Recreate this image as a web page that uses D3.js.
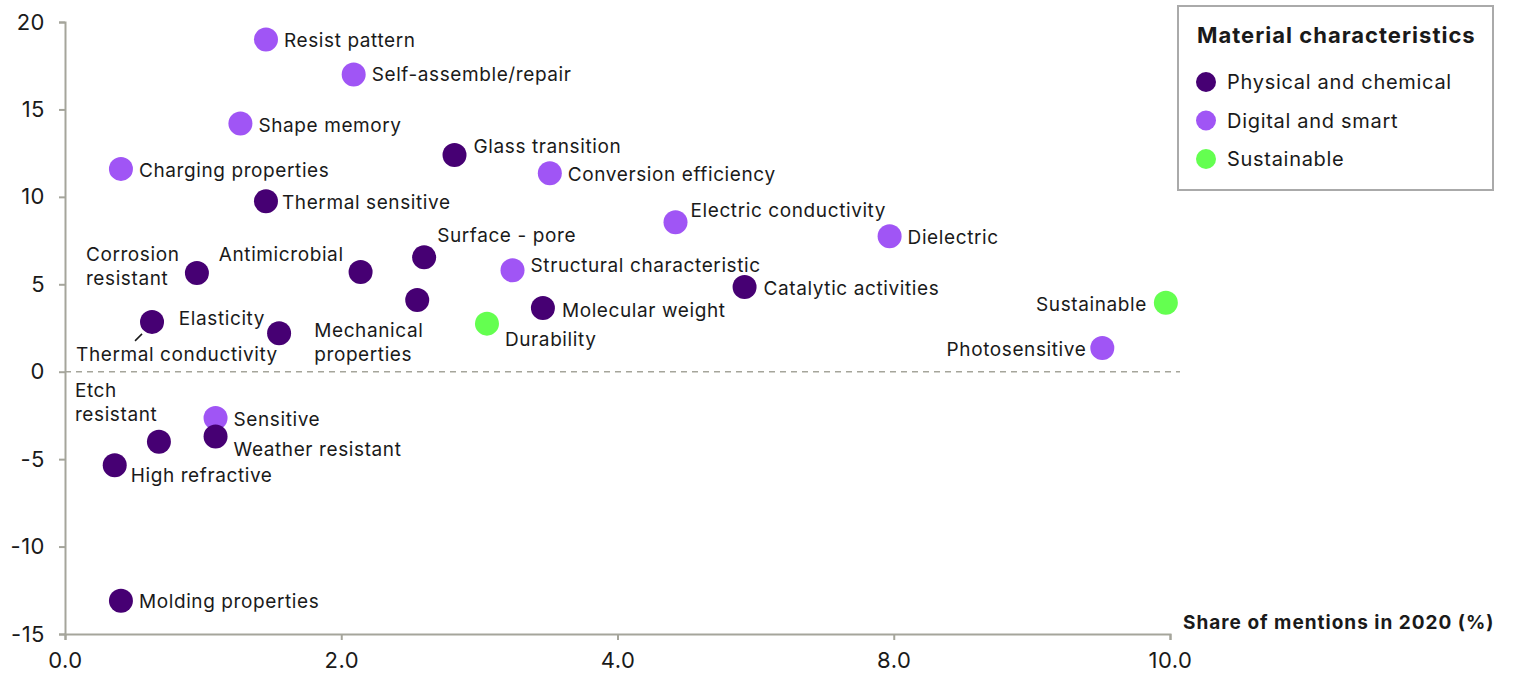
<!DOCTYPE html>
<html>
<head>
<meta charset="utf-8">
<script src="https://cdn.jsdelivr.net/npm/d3@7"></script>
<style>
  body { margin: 0; background: #fff; }
  text { font-family: Inter, Roboto, sans-serif; fill: #1a1a1a; }
</style>
</head>
<body>
<div id="chart"></div>
<script>
// Data
var names = ["Resist pattern", "Self-assemble/repair", "Shape memory", "Charging properties",
  "Glass transition", "Thermal sensitive", "Conversion efficiency", "Electric conductivity",
  "Dielectric", "Corrosion resistant", "Antimicrobial", "Surface - pore",
  "Structural characteristic", "Mechanical properties", "Molecular weight",
  "Catalytic activities", "Sustainable", "Durability", "Thermal conductivity",
  "Elasticity", "Photosensitive", "Sensitive", "Weather resistant", "Etch resistant",
  "High refractive", "Molding properties"];
var xValues = [1.455, 2.09, 1.27, 0.405, 2.82, 1.455, 3.51, 4.42, 5.97, 0.955, 2.14, 2.60,
  3.24, 2.55, 3.46, 4.92, 7.97, 3.055, 0.63, 1.55, 7.51, 1.09, 1.09, 0.68, 0.36, 0.405];
var yValues = [19.0, 17.0, 14.2, 11.6, 12.4, 9.75, 11.35, 8.55, 7.75, 5.65, 5.7, 6.55,
  5.8, 4.1, 3.65, 4.85, 3.95, 2.75, 2.85, 2.2, 1.35, -2.65, -3.7, -4.0, -5.35, -13.1];
var groups = ["ds", "ds", "ds", "ds", "pc", "pc", "ds", "ds", "ds", "pc", "pc", "pc",
  "ds", "pc", "pc", "pc", "su", "su", "pc", "pc", "ds", "ds", "pc", "pc", "pc", "pc"];

var legendKeys = ["pc", "ds", "su"];
var legendLabels = ["Physical and chemical", "Digital and smart", "Sustainable"];
var xTicks = [0, 2, 4, 6, 8];
var xTickLabels = ["0.0", "2.0", "4.0", "8.0", "10.0"];
var yTicks = [20, 15, 10, 5, 0, -5, -10, -15];

// label placement: [dx, dy, anchor, lines]
var labelPos = {
  "Resist pattern": [18, 1, "start"],
  "Self-assemble/repair": [18, 0, "start"],
  "Shape memory": [18, 2, "start"],
  "Charging properties": [18, 1, "start"],
  "Glass transition": [19, -9, "start"],
  "Thermal sensitive": [16, 1, "start"],
  "Conversion efficiency": [18, 1, "start"],
  "Electric conductivity": [15, -12, "start"],
  "Dielectric": [18, 1, "start"],
  "Corrosion resistant": [-111, -19, "start", ["Corrosion", "resistant"]],
  "Antimicrobial": [-17, -18, "end"],
  "Surface - pore": [13, -22, "start"],
  "Structural characteristic": [18, -5, "start"],
  "Mechanical properties": [-103, 30, "start", ["Mechanical", "properties"]],
  "Molecular weight": [19, 2, "start"],
  "Catalytic activities": [19, 1, "start"],
  "Sustainable": [-19, 2, "end"],
  "Durability": [18, 16, "start"],
  "Thermal conductivity": [-76, 32, "start"],
  "Elasticity": [-14, -15, "end"],
  "Photosensitive": [-16, 1, "end"],
  "Sensitive": [18, 1, "start"],
  "Weather resistant": [18, 13, "start"],
  "Etch resistant": [-84, -51, "start", ["Etch", "resistant"]],
  "High refractive": [16, 10, "start"],
  "Molding properties": [18, 1, "start"]
};

var width = 1520, height = 677;
var margin = { top: 22, left: 65, right: 350, bottom: 43 };

var color = d3.scaleOrdinal()
  .domain(legendKeys)
  .range(["#460073", "#a055f5", "#64ff50"]);

var x = d3.scaleLinear().domain([0, 8]).range([margin.left, width - margin.right]);
var y = d3.scaleLinear().domain([-15, 20]).range([height - margin.bottom, margin.top]);

var svg = d3.select("#chart").append("svg")
  .attr("width", width)
  .attr("height", height);

var axisColor = "#a5a59b";

// zero line
svg.append("line")
  .attr("x1", x(0)).attr("x2", x(8) + 10)
  .attr("y1", y(0)).attr("y2", y(0))
  .attr("stroke", axisColor)
  .attr("stroke-width", 1.5)
  .attr("stroke-dasharray", "6,5");

// y axis
var yAxis = svg.append("g")
  .attr("transform", "translate(" + x(0) + ",0)")
  .call(d3.axisLeft(y).tickValues(yTicks).tickSize(6).tickPadding(14)
    .tickFormat(function (d) { return String(d); }));
yAxis.select(".domain").attr("stroke", axisColor).attr("stroke-width", 2);
yAxis.selectAll(".tick line").attr("stroke", axisColor).attr("stroke-width", 2);
yAxis.selectAll(".tick text").style("font-size", "22px").style("letter-spacing", "0.5px")
  .attr("fill", "#1a1a1a");

// x axis
var xAxis = svg.append("g")
  .attr("transform", "translate(0," + y(-15) + ")")
  .call(d3.axisBottom(x).tickValues(xTicks).tickSize(6).tickPadding(12)
    .tickFormat(function (d, i) { return xTickLabels[i]; }));
xAxis.select(".domain").attr("stroke", axisColor).attr("stroke-width", 2);
xAxis.selectAll(".tick line").attr("stroke", axisColor).attr("stroke-width", 2);
xAxis.selectAll(".tick text").style("font-size", "22px").style("letter-spacing", "0.5px")
  .attr("fill", "#1a1a1a");

// axis title
svg.append("text")
  .attr("x", 1183).attr("y", y(-15) - 5)
  .style("font-size", "19px")
  .style("font-weight", "bold")
  .style("letter-spacing", "1px")
  .text("Share of mentions in 2020 (%)");

// points
var data = names.map(function (n, i) {
  return { name: n, x: xValues[i], y: yValues[i], g: groups[i] };
});

svg.selectAll(".dot")
  .data(data)
  .enter()
  .append("circle")
  .attr("class", "dot")
  .attr("cx", function (d) { return x(d.x); })
  .attr("cy", function (d) { return y(d.y); })
  .attr("r", 12)
  .attr("fill", function (d) { return color(d.g); });

// labels
var label = svg.selectAll(".label")
  .data(data)
  .enter()
  .append("text")
  .attr("class", "label")
  .style("font-size", "19px")
  .style("letter-spacing", "0.6px")
  .attr("text-anchor", function (d) { return labelPos[d.name][2]; })
  .attr("transform", function (d) {
    var p = labelPos[d.name];
    return "translate(" + (x(d.x) + p[0]) + "," + (y(d.y) + p[1]) + ")";
  });

label.each(function (d) {
  var lines = labelPos[d.name][3] || [d.name];
  d3.select(this).selectAll("tspan")
    .data(lines)
    .enter()
    .append("tspan")
    .attr("x", 0)
    .attr("y", function (l, i) { return i * 24; })
    .attr("dy", "0.35em")
    .text(function (l) { return l; });
});

// leader line for Thermal conductivity
var tc = data.filter(function (d) { return d.name === "Thermal conductivity"; })[0];
svg.append("line")
  .attr("x1", x(tc.x) - 17).attr("y1", y(tc.y) + 19)
  .attr("x2", x(tc.x) - 10).attr("y2", y(tc.y) + 12)
  .attr("stroke", "#1a1a1a")
  .attr("stroke-width", 1.5);

// legend
var legend = svg.append("g").attr("transform", "translate(1178,6)");
legend.append("rect")
  .attr("width", 315).attr("height", 184)
  .attr("fill", "#fff")
  .attr("stroke", "#aaaaaa")
  .attr("stroke-width", 2);
legend.append("text")
  .attr("x", 19).attr("y", 29)
  .attr("dy", "0.35em")
  .style("font-size", "22px")
  .style("font-weight", "bold")
  .style("letter-spacing", "1px")
  .text("Material characteristics");

var item = legend.selectAll(".item")
  .data(legendKeys)
  .enter()
  .append("g")
  .attr("class", "item")
  .attr("transform", function (d, i) { return "translate(0," + (76 + i * 38.5) + ")"; });
item.append("circle")
  .attr("cx", 28).attr("r", 10)
  .attr("fill", function (d) { return color(d); });
item.append("text")
  .attr("x", 49)
  .attr("dy", "0.35em")
  .style("font-size", "20px")
  .style("letter-spacing", "0.7px")
  .text(function (d, i) { return legendLabels[i]; });
</script>
</body>
</html>
